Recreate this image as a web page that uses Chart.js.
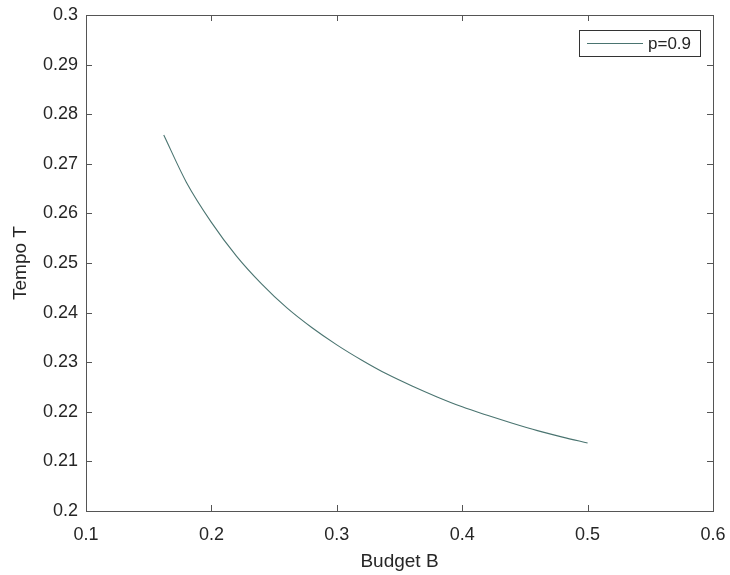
<!DOCTYPE html>
<html>
<head>
<meta charset="utf-8">
<script src="https://cdn.jsdelivr.net/npm/chart.js@4/dist/chart.umd.min.js"></script>
<style>
  html, body { margin: 0; padding: 0; background: #fff; }
  #wrap { width: 730px; height: 575px; }
</style>
</head>
<body>
<div id="wrap"><canvas id="c" width="730" height="575"></canvas></div>
<script>
// Data
const budgetB = [0.162, 0.18, 0.20, 0.22, 0.24, 0.26, 0.28, 0.30, 0.32, 0.34, 0.36, 0.38, 0.40, 0.42, 0.44, 0.46, 0.48, 0.50];
const tempoT  = [0.2758, 0.2663, 0.2582, 0.2514, 0.2458, 0.2410, 0.2370, 0.2335, 0.2304, 0.2276, 0.2252, 0.2230, 0.2210, 0.2193, 0.2177, 0.2162, 0.2149, 0.2137];
const seriesLabel = 'p=0.9';
const xTickValues = [0.1, 0.2, 0.3, 0.4, 0.5, 0.6];
const yTickValues = [0.2, 0.21, 0.22, 0.23, 0.24, 0.25, 0.26, 0.27, 0.28, 0.29, 0.3];
const xTitle = 'Budget B';
const yTitle = 'Tempo T';

const FONT = "'Liberation Sans', Arial, Helvetica, sans-serif";
const TEXT = '#262626';
const AXIS = '#555555';
const LINE = '#4a7470';

const points = budgetB.map((b, i) => ({ x: b, y: tempoT[i] }));

const boxTicks = {
  id: 'boxTicks',
  afterDraw(chart) {
    const { ctx, chartArea: a, scales } = chart;
    ctx.save();
    ctx.strokeStyle = AXIS;
    ctx.lineWidth = 1;
    ctx.strokeRect(Math.round(a.left) + 0.5, Math.round(a.top) + 0.5, Math.round(a.right - a.left), Math.round(a.bottom - a.top));
    const L = 6;
    ctx.beginPath();
    scales.x.ticks.forEach(t => {
      const px = Math.round(scales.x.getPixelForValue(t.value)) + 0.5;
      ctx.moveTo(px, a.bottom); ctx.lineTo(px, a.bottom - L);
      ctx.moveTo(px, a.top); ctx.lineTo(px, a.top + L);
    });
    scales.y.ticks.forEach(t => {
      const py = Math.round(scales.y.getPixelForValue(t.value)) + 0.5;
      ctx.moveTo(a.left, py); ctx.lineTo(a.left + L, py);
      ctx.moveTo(a.right, py); ctx.lineTo(a.right - L, py);
    });
    ctx.stroke();

    // legend box
    const bx = 579.5, by = 30.5, bw = 121, bh = 26;
    ctx.fillStyle = '#fff';
    ctx.fillRect(bx, by, bw, bh);
    ctx.strokeStyle = '#333';
    ctx.strokeRect(bx, by, bw, bh);
    ctx.strokeStyle = LINE;
    ctx.beginPath();
    ctx.moveTo(587, by + bh / 2); ctx.lineTo(643, by + bh / 2);
    ctx.stroke();
    ctx.fillStyle = TEXT;
    ctx.font = '17px ' + FONT;
    ctx.textBaseline = 'middle';
    ctx.textAlign = 'left';
    ctx.fillText(chart.data.datasets[0].label, 648, by + bh / 2 + 1);
    ctx.restore();
  }
};

new Chart(document.getElementById('c'), {
  type: 'line',
  data: {
    datasets: [{
      label: seriesLabel,
      data: points,
      borderColor: LINE,
      borderWidth: 1.1,
      pointRadius: 0,
      fill: false,
      tension: 0.4,
      cubicInterpolationMode: 'monotone'
    }]
  },
  options: {
    responsive: false,
    animation: false,
    layout: { padding: { left: 0, right: 17, top: 15, bottom: 0 } },
    plugins: { legend: { display: false }, tooltip: { enabled: false } },
    scales: {
      x: {
        type: 'linear',
        min: 0.1, max: 0.6,
        afterBuildTicks: s => { s.ticks = xTickValues.map(v => ({ value: v })); },
        afterFit: s => { s.height = 64; s.paddingLeft = 0; s.paddingRight = 0; },
        grid: { display: false, drawTicks: false },
        border: { display: false },
        ticks: {
          color: TEXT, font: { family: FONT, size: 18 }, padding: 13,
          maxRotation: 0,
          callback: v => String(Number(v.toFixed(2)))
        },
        title: { display: true, text: xTitle, color: TEXT, font: { family: FONT, size: 19 }, padding: { top: 0, bottom: 2 } }
      },
      y: {
        type: 'linear',
        min: 0.2, max: 0.3,
        afterBuildTicks: s => { s.ticks = yTickValues.map(v => ({ value: v })); },
        afterFit: s => { s.width = 86; s.paddingTop = 0; s.paddingBottom = 0; },
        grid: { display: false, drawTicks: false },
        border: { display: false },
        ticks: {
          color: TEXT, font: { family: FONT, size: 18 }, padding: 8,
          callback: v => String(Number(v.toFixed(2)))
        },
        title: { display: true, text: yTitle, color: TEXT, font: { family: FONT, size: 19 }, padding: { top: 9, bottom: 2 } }
      }
    }
  },
  plugins: [boxTicks]
});
</script>
</body>
</html>
